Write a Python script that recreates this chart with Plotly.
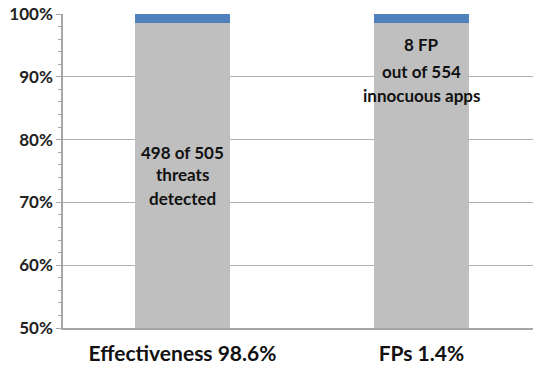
import plotly.graph_objects as go

# Detection results, in percent
categories = ["Effectiveness 98.6%", "FPs 1.4%"]
base_share = [98.6, 98.6]      # grey part of each bar
top_share = [1.4, 1.4]         # blue part of each bar
y_ticks = [50, 60, 70, 80, 90, 100]

# In-bar captions, one entry per line, with the level each line sits at
bar_labels = [["498 of 505", "threats", "detected"],
              ["8 FP", "out of 554", "innocuous apps"]]
label_y = [[78.0, 74.4, 70.6],
           [95.1, 90.8, 87.1]]

FONT = "Lato, 'Open Sans', sans-serif"

fig = go.Figure()
fig.add_trace(go.Bar(x=categories, y=base_share, marker=dict(color="#BFBFBF", line=dict(width=0)),
                     width=0.4, showlegend=False, hoverinfo="skip"))
fig.add_trace(go.Bar(x=categories, y=top_share, marker=dict(color="#4F81BD", line=dict(width=0)),
                     width=0.4, showlegend=False, hoverinfo="skip"))

for cat, lines, ys in zip(categories, bar_labels, label_y):
    for txt, yy in zip(lines, ys):
        fig.add_annotation(x=cat, y=yy, text=f"<b>{txt}</b>", showarrow=False,
                           font=dict(family=FONT, size=17, color="#111111"),
                           align="center", yanchor="middle")

fig.update_layout(
    barmode="stack",
    width=533, height=365,
    margin=dict(l=63, r=0, t=14, b=37),
    paper_bgcolor="white", plot_bgcolor="white",
    font=dict(family=FONT),
    xaxis=dict(range=[-0.5, 1.467], showgrid=False, showline=True, linecolor="#A6A6A6",
               linewidth=1.5, ticks="", tickfont=dict(size=21, color="#111111", family=FONT),
               tickprefix="<b>", ticksuffix="</b>", ticklabelstandoff=6),
    yaxis=dict(range=[50, 100], tickvals=y_ticks, ticktext=[f"<b>{v}%</b>" for v in y_ticks],
               tickfont=dict(size=17, color="#222222", family=FONT),
               showgrid=True, gridcolor="#B0B0B0", gridwidth=1.2,
               showline=True, linecolor="#A6A6A6", linewidth=1.5,
               ticks="outside", ticklen=5, tickcolor="#A6A6A6",
               minor=dict(dtick=2, ticks="outside", ticklen=3, tickcolor="#A6A6A6", showgrid=False),
               zeroline=False),
)

fig.write_html("out.html")
